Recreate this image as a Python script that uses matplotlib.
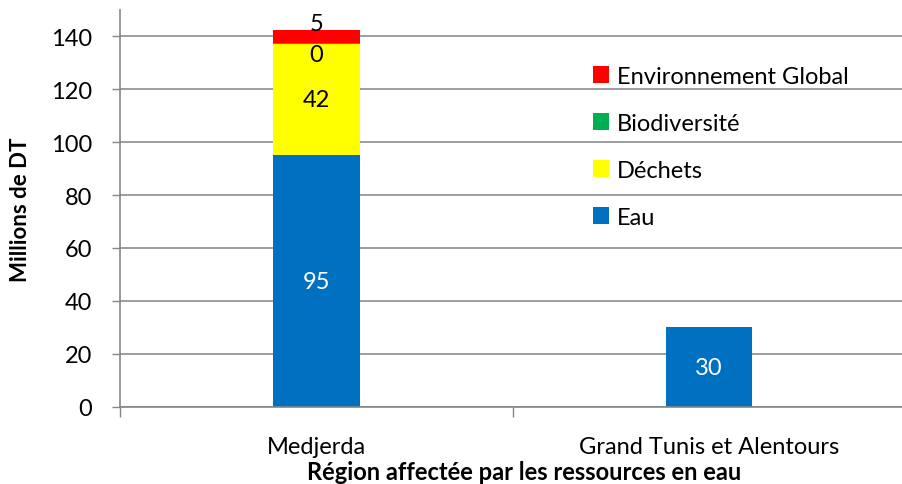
import matplotlib.pyplot as plt
import numpy as np

plt.rcParams['font.family'] = ['Lato', 'DejaVu Sans']

regions = ["Medjerda", "Grand Tunis et Alentours"]
series = ["Eau", "Déchets", "Biodiversité", "Environnement Global"]
eau = [95, 30]
dechets = [42, 0]
biodiversite = [0.4, 0]
env_global = [5, 0]

colors = ["#0070C0", "#FFFF00", "#00B050", "#FF0000"]
label_colors = ["white", "black", "black", "black"]
label_shift = [0, 0, -8, 9]  # points, for the thin segments

fs = 17

fig = plt.figure(figsize=(9.02, 4.85), dpi=100)
ax = fig.add_axes([0.133, 0.159, 0.871, 0.819])

x = np.arange(len(regions))
bottom = np.zeros(len(regions))
for name, vals, col, lc, sh in zip(series, [eau, dechets, biodiversite, env_global],
                                   colors, label_colors, label_shift):
    vals = np.array(vals, dtype=float)
    ax.bar(x, vals, width=0.22, bottom=bottom, color=col, label=name, zorder=2)
    for xi, v, b0 in zip(x, vals, bottom):
        if v > 0:
            ax.annotate("%.0f" % v, (xi, b0 + v / 2), xytext=(0, sh),
                        textcoords="offset points", ha="center", va="center",
                        fontsize=fs, color=lc, zorder=3)
    bottom = bottom + vals

ax.set_xlim(-0.5, 1.5)
ax.set_ylim(0, 150)
ax.set_yticks(range(0, 141, 20))
ax.yaxis.grid(True, color="#8c8c8c", linewidth=1.2, zorder=0)
ax.set_axisbelow(True)

ax.set_xticks(x)
ax.set_xticklabels(regions, fontsize=fs)
ax.set_xticks([-0.5, 0.5, 1.5], minor=True)
ax.tick_params(axis="x", which="major", length=0, pad=21)
ax.tick_params(axis="x", which="minor", length=7, color="#868686", width=1)
ax.tick_params(axis="y", labelsize=fs, length=6, color="#868686", width=1, pad=14)

for s in ["top", "right"]:
    ax.spines[s].set_visible(False)
for s in ["left", "bottom"]:
    ax.spines[s].set_color("#868686")
    ax.spines[s].set_linewidth(1.2)

ax.set_ylabel("Millions de DT", fontsize=16, fontweight="bold", labelpad=14)
ax.set_xlabel("Région affectée par les ressources en eau", fontsize=fs,
              fontweight="bold", labelpad=2)
ax.xaxis.label.set_x(0.515)

handles, labels = ax.get_legend_handles_labels()
ax.legend(handles[::-1], labels[::-1], loc="upper left", bbox_to_anchor=(0.602, 0.859),
          frameon=False, fontsize=fs, handlelength=0.7, handleheight=0.7,
          handletextpad=0.3, labelspacing=1.1, borderpad=0, borderaxespad=0)

fig.savefig("out.png", dpi=100)
